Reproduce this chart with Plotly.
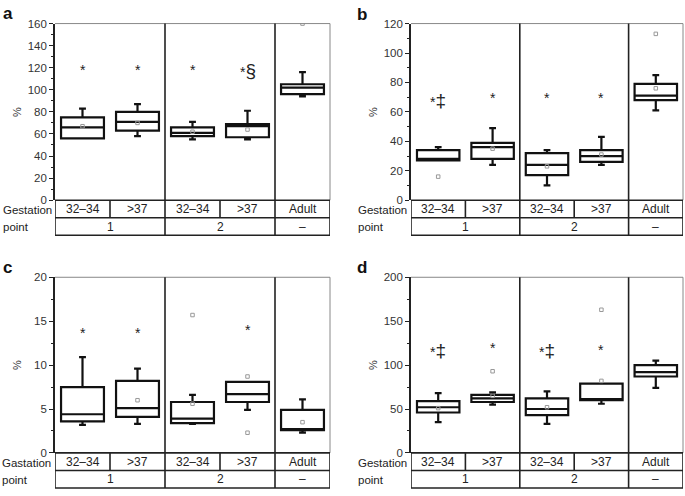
import plotly.graph_objects as go

W, H = 685, 496

categories = ["32–34", ">37", "32–34", ">37", "Adult"]
points = ["1", "2", "–"]

# Panel a
a_upper = [83, 87, 71, 81, 116]
a_q3 = [75, 80, 66, 69, 105]
a_med = [66, 71, 61, 67, 102]
a_q1 = [56, 63, 58, 57, 96]
a_lower = [56, 58, 55, 55, 94]
a_gray_x = [0, 1, 2, 3, 4]
a_gray_y = [67, 70, 62, 64, 160]

# Panel b
b_upper = [36, 49, 34, 43, 85]
b_q3 = [34, 39, 32, 34, 79]
b_med = [28, 36, 24, 30, 71]
b_q1 = [27, 28, 17, 26, 68]
b_lower = [27, 24, 10, 24, 61]
b_gray_x = [0, 1, 2, 3, 4, 4]
b_gray_y = [16, 35, 23, 31, 76, 113]

# Panel c
c_upper = [10.9, 9.6, 6.6, 8.1, 6.1]
c_q3 = [7.5, 8.2, 5.8, 8.1, 4.9]
c_med = [4.4, 5.1, 3.9, 6.7, 2.7]
c_q1 = [3.6, 4.1, 3.4, 5.8, 2.6]
c_lower = [3.2, 3.3, 3.3, 4.9, 2.3]
c_gray_x = [1, 2, 2, 3, 3, 4]
c_gray_y = [6.0, 15.7, 5.6, 8.7, 2.3, 3.5]

# Panel d
d_upper = [68, 69, 70, 79, 105]
d_q3 = [59, 66, 62, 79, 100]
d_med = [52, 62, 50, 61, 92]
d_q1 = [46, 58, 43, 60, 87]
d_lower = [35, 55, 33, 56, 74]
d_gray_x = [0, 1, 1, 2, 3, 3]
d_gray_y = [51, 93, 65, 52, 163, 82]

DAG = "*<span style='font-size:19px'>‡</span>"
SEC = "*<span style='font-size:19px'>§</span>"

panels = [
    dict(key="a", data=(a_lower, a_q1, a_med, a_q3, a_upper), gx=a_gray_x, gy=a_gray_y,
         yr=[0, 160], dt=20, mdt=10, px=(55, 330), py=(18, 199), row_label="Gestation",
         stars=[(0, 118, "*"), (1, 118, "*"), (2, 118, "*"), (3, 117.5, SEC)]),
    dict(key="b", data=(b_lower, b_q1, b_med, b_q3, b_upper), gx=b_gray_x, gy=b_gray_y,
         yr=[0, 120], dt=20, mdt=10, px=(411, 683), py=(18, 199), row_label="Gestation",
         stars=[(0, 68, DAG), (1, 69.5, "*"), (2, 69.5, "*"), (3, 69.5, "*")]),
    dict(key="c", data=(c_lower, c_q1, c_med, c_q3, c_upper), gx=c_gray_x, gy=c_gray_y,
         yr=[0, 20], dt=5, mdt=2.5, px=(55, 330), py=(278, 458), row_label="Gastation",
         stars=[(0, 13.7, "*"), (1, 13.7, "*"), (3, 14.0, "*")]),
    dict(key="d", data=(d_lower, d_q1, d_med, d_q3, d_upper), gx=d_gray_x, gy=d_gray_y,
         yr=[0, 200], dt=50, mdt=25, px=(411, 683), py=(278, 458), row_label="Gestation",
         stars=[(0, 117, DAG), (1, 119, "*"), (2, 117, DAG), (3, 117.5, "*")]),
]

FONT = "Liberation Sans, Arial, sans-serif"
fig = go.Figure()
shapes = []
annotations = []
xpos = list(range(len(categories)))

def fx(p):
    return p / W

def fy(p):
    return 1 - p / H

for i, p in enumerate(panels):
    n = "" if i == 0 else str(i + 1)
    xa, ya = "x" + n, "y" + n
    lower, q1, med, q3, upper = p["data"]
    fig.add_trace(go.Box(
        x=xpos, lowerfence=lower, q1=q1, median=med, q3=q3, upperfence=upper,
        xaxis=xa, yaxis=ya, width=0.78, whiskerwidth=0.16,
        fillcolor="white", line=dict(color="#111", width=2.2),
        boxpoints=False, showlegend=False, hoverinfo="skip"))
    fig.add_trace(go.Scatter(
        x=p["gx"], y=p["gy"], mode="markers", xaxis=xa, yaxis=ya,
        marker=dict(symbol="square-open", size=3.5, color="#999", line=dict(width=1, color="#999")),
        showlegend=False, hoverinfo="skip"))
    x0, x1 = p["px"]
    y0, y1 = p["py"]
    fig.layout["xaxis" + n] = dict(domain=[fx(x0), fx(x1)], range=[-0.5, 4.5], showticklabels=False,
                                   showgrid=False, zeroline=False, ticks="", anchor=ya, fixedrange=True)
    fig.layout["yaxis" + n] = dict(domain=[fy(y1), fy(y0)], range=p["yr"], dtick=p["dt"], tick0=0,
                                   showgrid=False, zeroline=False, ticks="outside", ticklen=4,
                                   tickwidth=1.2, tickcolor="#222", showline=True, linecolor="#222",
                                   linewidth=1.6, anchor=xa,
                                   tickfont=dict(family=FONT, size=11.5, color="#333"),
                                   minor=dict(dtick=p["mdt"], ticks="outside", ticklen=2.5,
                                              tickwidth=1.2, tickcolor="#222", tick0=0),
                                   fixedrange=True)
    # plot frame: top and right gray
    shapes.append(dict(type="line", xref=xa + " domain", yref=ya + " domain", x0=0, x1=1, y0=1, y1=1,
                       line=dict(color="#888", width=1)))
    shapes.append(dict(type="line", xref=xa + " domain", yref=ya + " domain", x0=1, x1=1, y0=0, y1=1,
                       line=dict(color="#888", width=1)))
    # group dividers in plot
    for gxv in [1.5, 3.5]:
        shapes.append(dict(type="line", xref=xa, yref=ya + " domain", x0=gxv, x1=gxv, y0=0, y1=1,
                           line=dict(color="#222", width=1.6)))
    # table
    r0 = y1
    r1 = y1 + 18
    r2 = y1 + 36
    for yy in [r0, r1, r2]:
        shapes.append(dict(type="line", xref=xa, yref="paper", x0=-0.5, x1=4.5, y0=fy(yy), y1=fy(yy),
                           line=dict(color="#222", width=1.6)))
    for xv in [-0.5, 1.5, 3.5, 4.5]:
        shapes.append(dict(type="line", xref=xa, yref="paper", x0=xv, x1=xv, y0=fy(r0), y1=fy(r2),
                           line=dict(color="#222", width=1.6)))
    for xv in [0.5, 2.5]:
        shapes.append(dict(type="line", xref=xa, yref="paper", x0=xv, x1=xv, y0=fy(r0), y1=fy(r1),
                           line=dict(color="#222", width=1.6)))
    for k, c in enumerate(categories):
        annotations.append(dict(x=k, y=fy((r0 + r1) / 2), xref=xa, yref="paper", text=c, showarrow=False,
                                font=dict(family=FONT, size=12, color="#222"), yanchor="middle"))
    for k, (pc, pt) in enumerate(zip([0.5, 2.5, 4.0], points)):
        annotations.append(dict(x=pc, y=fy((r1 + r2) / 2), xref=xa, yref="paper", text=pt, showarrow=False,
                                font=dict(family=FONT, size=12, color="#222"), yanchor="middle"))
    lx = 1 if x0 < 200 else 356
    if p["key"] == "c":
        lx = 0
    annotations.append(dict(x=fx(lx), y=fy((r0 + r1) / 2 + 1.5), xref="paper", yref="paper", text=p["row_label"],
                            showarrow=False, xanchor="left", yanchor="middle",
                            font=dict(family=FONT, size=11.5, color="#222")))
    annotations.append(dict(x=fx(lx), y=fy((r1 + r2) / 2 + 0.5), xref="paper", yref="paper", text="point",
                            showarrow=False, xanchor="left", yanchor="middle",
                            font=dict(family=FONT, size=11.5, color="#222")))
    # y title
    annotations.append(dict(x=fx(x0 - 38), y=fy((y0 + y1) / 2), xref="paper", yref="paper", text="%",
                            showarrow=False, textangle=-90, xanchor="center", yanchor="middle",
                            font=dict(family=FONT, size=11, color="#333")))
    # panel letter
    lpos = {"a": (1, 8), "b": (355, 9), "c": (1, 268), "d": (355, 268)}[p["key"]]
    annotations.append(dict(x=fx(lpos[0]), y=fy(lpos[1]), xref="paper", yref="paper", text="<b>%s</b>" % p["key"],
                            showarrow=False, xanchor="left", yanchor="middle",
                            font=dict(family=FONT, size=17, color="#111")))
    for (sx, sy, st) in p["stars"]:
        annotations.append(dict(x=sx, y=sy, xref=xa, yref=ya, text=st, showarrow=False,
                                font=dict(family=FONT, size=14, color="#222"), yanchor="middle"))

fig.update_layout(width=W, height=H, margin=dict(l=0, r=0, t=0, b=0),
                  paper_bgcolor="white", plot_bgcolor="white",
                  shapes=shapes, annotations=annotations, boxmode="overlay")
fig.write_html("out.html", config={"displayModeBar": False},
               post_script="document.body.style.margin='0';document.body.style.overflow='hidden';")
